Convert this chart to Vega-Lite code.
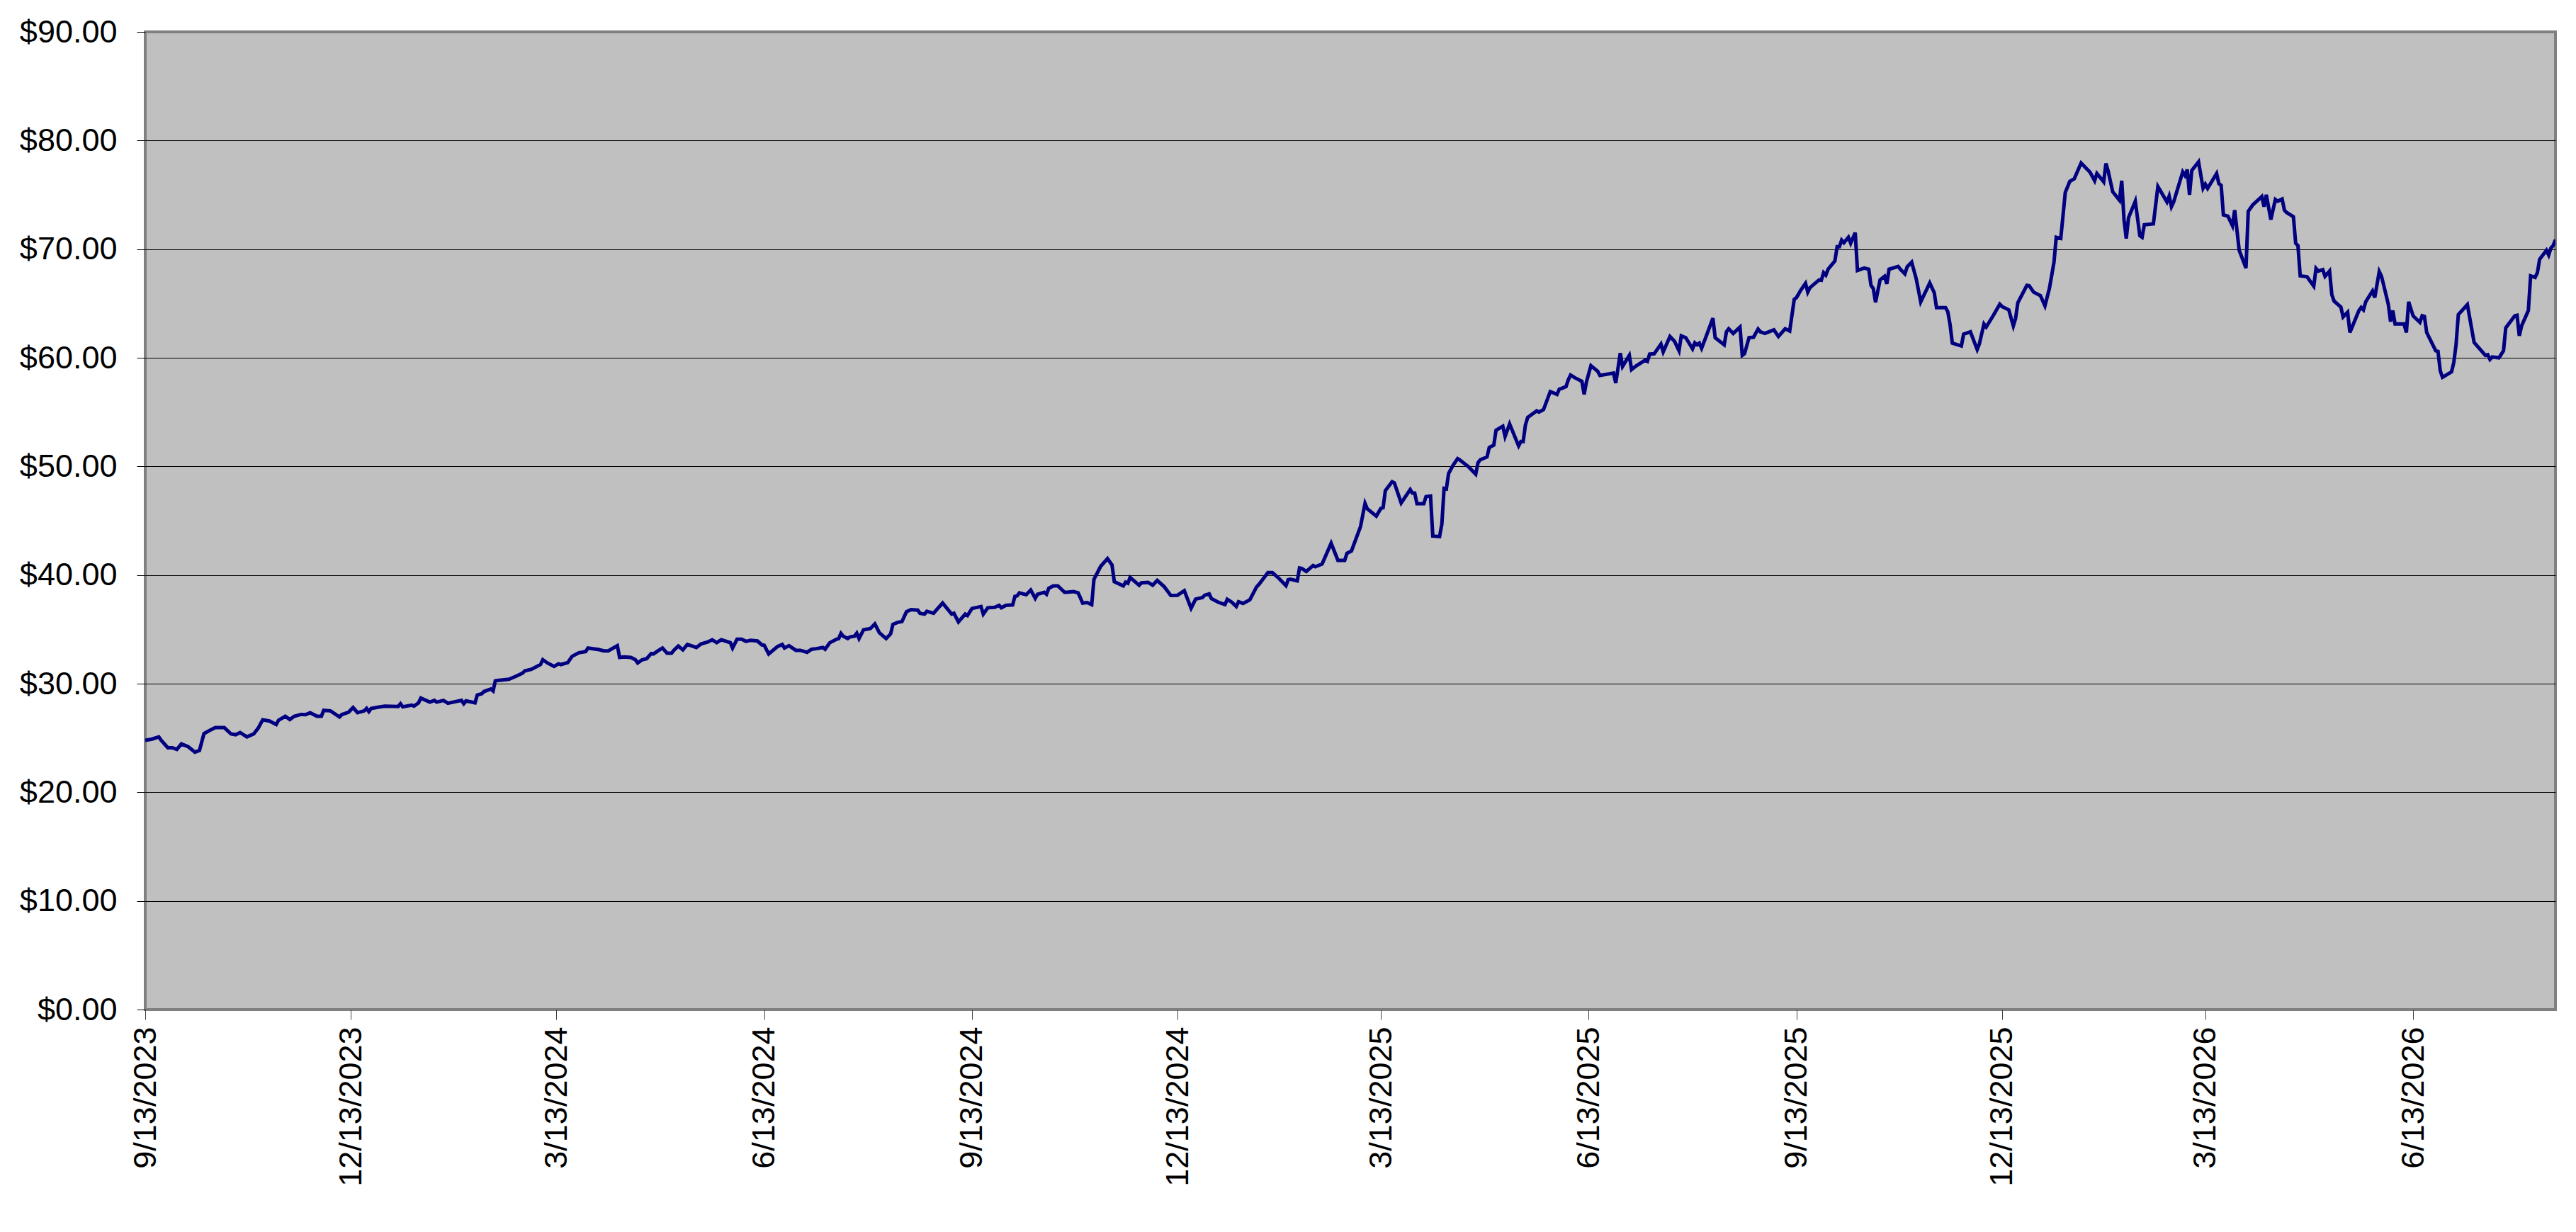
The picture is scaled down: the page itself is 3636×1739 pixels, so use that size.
{
  "$schema": "https://vega.github.io/schema/vega-lite/v6.json",
  "width": 3402,
  "height": 1380,
  "autosize": {"type": "none"},
  "padding": {"left": 205, "top": 45, "right": 29, "bottom": 314},
  "background": "#FFFFFF",
  "config": {
    "font": "Liberation Sans",
    "view": {"fill": "#C0C0C0", "stroke": "#808080", "strokeWidth": 4}
  },
  "data": {
    "values": [
      {"d": "2023-09-13", "v": 24.78}, {"d": "2023-09-16", "v": 24.9}, {"d": "2023-09-19", "v": 25.1}, {"d": "2023-09-20", "v": 24.8},
      {"d": "2023-09-23", "v": 24.1}, {"d": "2023-09-25", "v": 24.1}, {"d": "2023-09-27", "v": 23.95}, {"d": "2023-09-29", "v": 24.45},
      {"d": "2023-10-02", "v": 24.2}, {"d": "2023-10-05", "v": 23.7}, {"d": "2023-10-07", "v": 23.85}, {"d": "2023-10-09", "v": 25.4},
      {"d": "2023-10-12", "v": 25.75}, {"d": "2023-10-14", "v": 25.95}, {"d": "2023-10-18", "v": 25.95}, {"d": "2023-10-21", "v": 25.37},
      {"d": "2023-10-23", "v": 25.3}, {"d": "2023-10-25", "v": 25.5}, {"d": "2023-10-28", "v": 25.1}, {"d": "2023-10-31", "v": 25.37},
      {"d": "2023-11-02", "v": 25.9}, {"d": "2023-11-04", "v": 26.67}, {"d": "2023-11-07", "v": 26.56}, {"d": "2023-11-10", "v": 26.24},
      {"d": "2023-11-11", "v": 26.63}, {"d": "2023-11-14", "v": 27.0}, {"d": "2023-11-16", "v": 26.7}, {"d": "2023-11-18", "v": 27.0},
      {"d": "2023-11-21", "v": 27.17}, {"d": "2023-11-23", "v": 27.15}, {"d": "2023-11-25", "v": 27.33}, {"d": "2023-11-28", "v": 27.0},
      {"d": "2023-11-30", "v": 27.0}, {"d": "2023-12-01", "v": 27.54}, {"d": "2023-12-04", "v": 27.5}, {"d": "2023-12-08", "v": 26.93},
      {"d": "2023-12-09", "v": 27.15}, {"d": "2023-12-12", "v": 27.37}, {"d": "2023-12-14", "v": 27.8}, {"d": "2023-12-16", "v": 27.33},
      {"d": "2023-12-19", "v": 27.5}, {"d": "2023-12-20", "v": 27.72}, {"d": "2023-12-21", "v": 27.43}, {"d": "2023-12-22", "v": 27.72},
      {"d": "2023-12-25", "v": 27.83}, {"d": "2023-12-28", "v": 27.93}, {"d": "2024-01-03", "v": 27.9}, {"d": "2024-01-04", "v": 28.15},
      {"d": "2024-01-05", "v": 27.87}, {"d": "2024-01-09", "v": 28.02}, {"d": "2024-01-10", "v": 27.93}, {"d": "2024-01-12", "v": 28.24},
      {"d": "2024-01-13", "v": 28.67}, {"d": "2024-01-17", "v": 28.3}, {"d": "2024-01-19", "v": 28.46}, {"d": "2024-01-20", "v": 28.3},
      {"d": "2024-01-23", "v": 28.46}, {"d": "2024-01-25", "v": 28.2}, {"d": "2024-01-31", "v": 28.46}, {"d": "2024-02-01", "v": 28.15},
      {"d": "2024-02-02", "v": 28.41}, {"d": "2024-02-06", "v": 28.24}, {"d": "2024-02-07", "v": 28.96}, {"d": "2024-02-09", "v": 29.07},
      {"d": "2024-02-10", "v": 29.28}, {"d": "2024-02-13", "v": 29.5}, {"d": "2024-02-14", "v": 29.33}, {"d": "2024-02-15", "v": 30.26},
      {"d": "2024-02-16", "v": 30.3}, {"d": "2024-02-21", "v": 30.41}, {"d": "2024-02-24", "v": 30.67}, {"d": "2024-02-27", "v": 30.96},
      {"d": "2024-02-28", "v": 31.17}, {"d": "2024-03-02", "v": 31.33}, {"d": "2024-03-06", "v": 31.76}, {"d": "2024-03-07", "v": 32.2},
      {"d": "2024-03-09", "v": 31.91}, {"d": "2024-03-12", "v": 31.59}, {"d": "2024-03-14", "v": 31.83}, {"d": "2024-03-15", "v": 31.76},
      {"d": "2024-03-18", "v": 31.93}, {"d": "2024-03-20", "v": 32.52}, {"d": "2024-03-23", "v": 32.85}, {"d": "2024-03-26", "v": 32.96},
      {"d": "2024-03-27", "v": 33.28}, {"d": "2024-04-01", "v": 33.13}, {"d": "2024-04-03", "v": 33.02}, {"d": "2024-04-05", "v": 33.02},
      {"d": "2024-04-09", "v": 33.5}, {"d": "2024-04-10", "v": 32.41}, {"d": "2024-04-12", "v": 32.46}, {"d": "2024-04-15", "v": 32.41},
      {"d": "2024-04-17", "v": 32.2}, {"d": "2024-04-18", "v": 31.91}, {"d": "2024-04-20", "v": 32.2}, {"d": "2024-04-22", "v": 32.3},
      {"d": "2024-04-24", "v": 32.78}, {"d": "2024-04-25", "v": 32.74}, {"d": "2024-04-27", "v": 33.02}, {"d": "2024-04-29", "v": 33.28},
      {"d": "2024-05-01", "v": 32.8}, {"d": "2024-05-03", "v": 32.8}, {"d": "2024-05-04", "v": 33.07}, {"d": "2024-05-06", "v": 33.46},
      {"d": "2024-05-08", "v": 33.11}, {"d": "2024-05-10", "v": 33.61}, {"d": "2024-05-14", "v": 33.33}, {"d": "2024-05-16", "v": 33.65},
      {"d": "2024-05-19", "v": 33.83}, {"d": "2024-05-21", "v": 34.04}, {"d": "2024-05-23", "v": 33.78}, {"d": "2024-05-25", "v": 34.04},
      {"d": "2024-05-29", "v": 33.78}, {"d": "2024-05-30", "v": 33.28}, {"d": "2024-06-01", "v": 34.09}, {"d": "2024-06-03", "v": 34.09},
      {"d": "2024-06-05", "v": 33.89}, {"d": "2024-06-07", "v": 34.0}, {"d": "2024-06-10", "v": 33.93}, {"d": "2024-06-12", "v": 33.57},
      {"d": "2024-06-13", "v": 33.54}, {"d": "2024-06-15", "v": 32.74}, {"d": "2024-06-19", "v": 33.43}, {"d": "2024-06-21", "v": 33.61},
      {"d": "2024-06-22", "v": 33.28}, {"d": "2024-06-24", "v": 33.5}, {"d": "2024-06-27", "v": 33.07}, {"d": "2024-06-29", "v": 33.07},
      {"d": "2024-07-02", "v": 32.89}, {"d": "2024-07-04", "v": 33.17}, {"d": "2024-07-06", "v": 33.22}, {"d": "2024-07-09", "v": 33.33},
      {"d": "2024-07-10", "v": 33.17}, {"d": "2024-07-12", "v": 33.76}, {"d": "2024-07-15", "v": 34.09}, {"d": "2024-07-16", "v": 34.15},
      {"d": "2024-07-17", "v": 34.63}, {"d": "2024-07-18", "v": 34.37}, {"d": "2024-07-20", "v": 34.15}, {"d": "2024-07-21", "v": 34.3},
      {"d": "2024-07-23", "v": 34.37}, {"d": "2024-07-24", "v": 34.65}, {"d": "2024-07-25", "v": 34.15}, {"d": "2024-07-27", "v": 34.96},
      {"d": "2024-07-30", "v": 35.07}, {"d": "2024-08-01", "v": 35.5}, {"d": "2024-08-03", "v": 34.69}, {"d": "2024-08-06", "v": 34.15},
      {"d": "2024-08-08", "v": 34.59}, {"d": "2024-08-09", "v": 35.46}, {"d": "2024-08-11", "v": 35.63}, {"d": "2024-08-13", "v": 35.72},
      {"d": "2024-08-15", "v": 36.62}, {"d": "2024-08-17", "v": 36.81}, {"d": "2024-08-20", "v": 36.77}, {"d": "2024-08-21", "v": 36.48},
      {"d": "2024-08-23", "v": 36.4}, {"d": "2024-08-24", "v": 36.66}, {"d": "2024-08-27", "v": 36.48}, {"d": "2024-08-28", "v": 36.72},
      {"d": "2024-08-31", "v": 37.42}, {"d": "2024-09-04", "v": 36.4}, {"d": "2024-09-05", "v": 36.48}, {"d": "2024-09-07", "v": 35.68},
      {"d": "2024-09-10", "v": 36.4}, {"d": "2024-09-11", "v": 36.27}, {"d": "2024-09-13", "v": 36.92}, {"d": "2024-09-17", "v": 37.1},
      {"d": "2024-09-18", "v": 36.4}, {"d": "2024-09-20", "v": 36.99}, {"d": "2024-09-23", "v": 37.03}, {"d": "2024-09-25", "v": 37.21},
      {"d": "2024-09-26", "v": 36.99}, {"d": "2024-09-28", "v": 37.21}, {"d": "2024-10-01", "v": 37.25}, {"d": "2024-10-02", "v": 38.03},
      {"d": "2024-10-03", "v": 38.08}, {"d": "2024-10-04", "v": 38.36}, {"d": "2024-10-07", "v": 38.19}, {"d": "2024-10-09", "v": 38.62},
      {"d": "2024-10-11", "v": 37.86}, {"d": "2024-10-12", "v": 38.23}, {"d": "2024-10-15", "v": 38.41}, {"d": "2024-10-16", "v": 38.23},
      {"d": "2024-10-17", "v": 38.78}, {"d": "2024-10-19", "v": 39.0}, {"d": "2024-10-21", "v": 39.0}, {"d": "2024-10-24", "v": 38.41},
      {"d": "2024-10-25", "v": 38.41}, {"d": "2024-10-28", "v": 38.47}, {"d": "2024-10-30", "v": 38.36}, {"d": "2024-11-01", "v": 37.42},
      {"d": "2024-11-03", "v": 37.47}, {"d": "2024-11-05", "v": 37.27}, {"d": "2024-11-06", "v": 39.61}, {"d": "2024-11-09", "v": 40.81},
      {"d": "2024-11-12", "v": 41.51}, {"d": "2024-11-14", "v": 40.92}, {"d": "2024-11-15", "v": 39.39}, {"d": "2024-11-19", "v": 39.0},
      {"d": "2024-11-20", "v": 39.34}, {"d": "2024-11-21", "v": 39.24}, {"d": "2024-11-22", "v": 39.78}, {"d": "2024-11-26", "v": 39.06},
      {"d": "2024-11-27", "v": 39.28}, {"d": "2024-11-30", "v": 39.32}, {"d": "2024-12-02", "v": 39.06}, {"d": "2024-12-04", "v": 39.5},
      {"d": "2024-12-07", "v": 38.95}, {"d": "2024-12-10", "v": 38.12}, {"d": "2024-12-13", "v": 38.14}, {"d": "2024-12-16", "v": 38.56},
      {"d": "2024-12-19", "v": 36.94}, {"d": "2024-12-21", "v": 37.79}, {"d": "2024-12-24", "v": 37.93}, {"d": "2024-12-25", "v": 38.14},
      {"d": "2024-12-27", "v": 38.26}, {"d": "2024-12-28", "v": 37.83}, {"d": "2024-12-31", "v": 37.5}, {"d": "2025-01-03", "v": 37.28},
      {"d": "2025-01-04", "v": 37.76}, {"d": "2025-01-06", "v": 37.5}, {"d": "2025-01-08", "v": 37.11}, {"d": "2025-01-09", "v": 37.54},
      {"d": "2025-01-11", "v": 37.39}, {"d": "2025-01-14", "v": 37.72}, {"d": "2025-01-17", "v": 38.91}, {"d": "2025-01-18", "v": 39.13},
      {"d": "2025-01-22", "v": 40.22}, {"d": "2025-01-24", "v": 40.22}, {"d": "2025-01-27", "v": 39.67}, {"d": "2025-01-30", "v": 39.02},
      {"d": "2025-01-31", "v": 39.57}, {"d": "2025-02-01", "v": 39.61}, {"d": "2025-02-04", "v": 39.46}, {"d": "2025-02-05", "v": 40.65},
      {"d": "2025-02-06", "v": 40.61}, {"d": "2025-02-08", "v": 40.33}, {"d": "2025-02-11", "v": 40.87}, {"d": "2025-02-12", "v": 40.76},
      {"d": "2025-02-15", "v": 41.02}, {"d": "2025-02-19", "v": 42.93}, {"d": "2025-02-22", "v": 41.35}, {"d": "2025-02-25", "v": 41.35},
      {"d": "2025-02-26", "v": 42.0}, {"d": "2025-02-28", "v": 42.22}, {"d": "2025-03-04", "v": 44.46}, {"d": "2025-03-06", "v": 46.59},
      {"d": "2025-03-07", "v": 46.09}, {"d": "2025-03-11", "v": 45.43}, {"d": "2025-03-13", "v": 46.13}, {"d": "2025-03-14", "v": 46.2},
      {"d": "2025-03-15", "v": 47.78}, {"d": "2025-03-18", "v": 48.59}, {"d": "2025-03-19", "v": 48.48}, {"d": "2025-03-22", "v": 46.63},
      {"d": "2025-03-26", "v": 47.87}, {"d": "2025-03-27", "v": 47.54}, {"d": "2025-03-28", "v": 47.54}, {"d": "2025-03-29", "v": 46.57},
      {"d": "2025-04-01", "v": 46.57}, {"d": "2025-04-02", "v": 47.22}, {"d": "2025-04-04", "v": 47.28}, {"d": "2025-04-05", "v": 43.59},
      {"d": "2025-04-08", "v": 43.54}, {"d": "2025-04-09", "v": 44.67}, {"d": "2025-04-10", "v": 47.98}, {"d": "2025-04-11", "v": 47.93},
      {"d": "2025-04-12", "v": 49.35}, {"d": "2025-04-14", "v": 50.11}, {"d": "2025-04-16", "v": 50.72}, {"d": "2025-04-17", "v": 50.59},
      {"d": "2025-04-21", "v": 49.93}, {"d": "2025-04-24", "v": 49.28}, {"d": "2025-04-25", "v": 50.33}, {"d": "2025-04-26", "v": 50.61},
      {"d": "2025-04-29", "v": 50.87}, {"d": "2025-04-30", "v": 51.74}, {"d": "2025-05-02", "v": 51.96}, {"d": "2025-05-03", "v": 53.33},
      {"d": "2025-05-06", "v": 53.7}, {"d": "2025-05-07", "v": 52.76}, {"d": "2025-05-09", "v": 53.91}, {"d": "2025-05-13", "v": 51.89},
      {"d": "2025-05-14", "v": 52.28}, {"d": "2025-05-15", "v": 52.28}, {"d": "2025-05-16", "v": 53.8}, {"d": "2025-05-17", "v": 54.5},
      {"d": "2025-05-21", "v": 55.11}, {"d": "2025-05-22", "v": 55.0}, {"d": "2025-05-24", "v": 55.22}, {"d": "2025-05-27", "v": 56.89},
      {"d": "2025-05-30", "v": 56.63}, {"d": "2025-05-31", "v": 57.11}, {"d": "2025-06-01", "v": 57.17}, {"d": "2025-06-03", "v": 57.35},
      {"d": "2025-06-04", "v": 57.98}, {"d": "2025-06-05", "v": 58.41}, {"d": "2025-06-07", "v": 58.15}, {"d": "2025-06-10", "v": 57.83},
      {"d": "2025-06-11", "v": 56.63}, {"d": "2025-06-12", "v": 57.76}, {"d": "2025-06-14", "v": 59.28}, {"d": "2025-06-17", "v": 58.76},
      {"d": "2025-06-18", "v": 58.37}, {"d": "2025-06-24", "v": 58.59}, {"d": "2025-06-25", "v": 57.67}, {"d": "2025-06-27", "v": 60.43},
      {"d": "2025-06-28", "v": 59.2}, {"d": "2025-07-01", "v": 60.22}, {"d": "2025-07-02", "v": 58.91}, {"d": "2025-07-04", "v": 59.24},
      {"d": "2025-07-08", "v": 59.78}, {"d": "2025-07-09", "v": 59.67}, {"d": "2025-07-10", "v": 60.33}, {"d": "2025-07-12", "v": 60.37},
      {"d": "2025-07-15", "v": 61.26}, {"d": "2025-07-16", "v": 60.54}, {"d": "2025-07-19", "v": 61.96}, {"d": "2025-07-21", "v": 61.52},
      {"d": "2025-07-23", "v": 60.65}, {"d": "2025-07-24", "v": 62.02}, {"d": "2025-07-26", "v": 61.85}, {"d": "2025-07-29", "v": 60.83},
      {"d": "2025-07-30", "v": 61.37}, {"d": "2025-07-31", "v": 61.2}, {"d": "2025-08-01", "v": 61.35}, {"d": "2025-08-02", "v": 60.87},
      {"d": "2025-08-04", "v": 61.96}, {"d": "2025-08-07", "v": 63.65}, {"d": "2025-08-08", "v": 61.85}, {"d": "2025-08-12", "v": 61.2},
      {"d": "2025-08-13", "v": 62.39}, {"d": "2025-08-14", "v": 62.67}, {"d": "2025-08-16", "v": 62.24}, {"d": "2025-08-19", "v": 62.83},
      {"d": "2025-08-20", "v": 60.22}, {"d": "2025-08-21", "v": 60.37}, {"d": "2025-08-23", "v": 61.85}, {"d": "2025-08-25", "v": 61.89},
      {"d": "2025-08-27", "v": 62.65}, {"d": "2025-08-28", "v": 62.39}, {"d": "2025-08-30", "v": 62.24}, {"d": "2025-09-03", "v": 62.57},
      {"d": "2025-09-05", "v": 61.96}, {"d": "2025-09-08", "v": 62.67}, {"d": "2025-09-10", "v": 62.46}, {"d": "2025-09-12", "v": 65.37},
      {"d": "2025-09-13", "v": 65.54}, {"d": "2025-09-15", "v": 66.26}, {"d": "2025-09-17", "v": 66.85}, {"d": "2025-09-18", "v": 66.04},
      {"d": "2025-09-19", "v": 66.46}, {"d": "2025-09-23", "v": 67.17}, {"d": "2025-09-24", "v": 67.13}, {"d": "2025-09-25", "v": 67.83},
      {"d": "2025-09-26", "v": 67.61}, {"d": "2025-09-27", "v": 68.15}, {"d": "2025-09-30", "v": 68.91}, {"d": "2025-10-01", "v": 70.22},
      {"d": "2025-10-02", "v": 70.22}, {"d": "2025-10-03", "v": 70.83}, {"d": "2025-10-04", "v": 70.59}, {"d": "2025-10-06", "v": 71.09},
      {"d": "2025-10-07", "v": 70.54}, {"d": "2025-10-09", "v": 71.52}, {"d": "2025-10-10", "v": 68.04}, {"d": "2025-10-13", "v": 68.26},
      {"d": "2025-10-15", "v": 68.15}, {"d": "2025-10-16", "v": 66.67}, {"d": "2025-10-17", "v": 66.37}, {"d": "2025-10-18", "v": 65.11},
      {"d": "2025-10-20", "v": 67.17}, {"d": "2025-10-22", "v": 67.5}, {"d": "2025-10-23", "v": 66.8}, {"d": "2025-10-24", "v": 68.15},
      {"d": "2025-10-28", "v": 68.41}, {"d": "2025-10-29", "v": 68.15}, {"d": "2025-10-31", "v": 67.72}, {"d": "2025-11-01", "v": 68.37},
      {"d": "2025-11-03", "v": 68.8}, {"d": "2025-11-05", "v": 67.28}, {"d": "2025-11-07", "v": 65.15}, {"d": "2025-11-11", "v": 66.89},
      {"d": "2025-11-13", "v": 65.98}, {"d": "2025-11-14", "v": 64.61}, {"d": "2025-11-18", "v": 64.61}, {"d": "2025-11-19", "v": 64.24},
      {"d": "2025-11-20", "v": 63.04}, {"d": "2025-11-21", "v": 61.35}, {"d": "2025-11-25", "v": 61.09}, {"d": "2025-11-26", "v": 62.17},
      {"d": "2025-11-29", "v": 62.39}, {"d": "2025-12-02", "v": 60.76}, {"d": "2025-12-03", "v": 61.3}, {"d": "2025-12-05", "v": 63.11},
      {"d": "2025-12-06", "v": 62.83}, {"d": "2025-12-09", "v": 63.85}, {"d": "2025-12-12", "v": 64.93}, {"d": "2025-12-13", "v": 64.72},
      {"d": "2025-12-16", "v": 64.41}, {"d": "2025-12-18", "v": 62.93}, {"d": "2025-12-19", "v": 63.63}, {"d": "2025-12-20", "v": 65.07},
      {"d": "2025-12-24", "v": 66.67}, {"d": "2025-12-25", "v": 66.63}, {"d": "2025-12-27", "v": 66.04}, {"d": "2025-12-30", "v": 65.72},
      {"d": "2026-01-01", "v": 64.78}, {"d": "2026-01-03", "v": 66.41}, {"d": "2026-01-05", "v": 68.8}, {"d": "2026-01-06", "v": 71.09},
      {"d": "2026-01-08", "v": 70.98}, {"d": "2026-01-10", "v": 75.22}, {"d": "2026-01-12", "v": 76.24}, {"d": "2026-01-14", "v": 76.48},
      {"d": "2026-01-17", "v": 77.93}, {"d": "2026-01-21", "v": 77.07}, {"d": "2026-01-23", "v": 76.3}, {"d": "2026-01-24", "v": 76.96},
      {"d": "2026-01-27", "v": 76.2}, {"d": "2026-01-28", "v": 77.89}, {"d": "2026-01-29", "v": 77.17}, {"d": "2026-01-31", "v": 75.28},
      {"d": "2026-02-03", "v": 74.5}, {"d": "2026-02-04", "v": 76.3}, {"d": "2026-02-05", "v": 72.72}, {"d": "2026-02-06", "v": 70.98},
      {"d": "2026-02-07", "v": 72.89}, {"d": "2026-02-10", "v": 74.41}, {"d": "2026-02-12", "v": 71.24}, {"d": "2026-02-13", "v": 71.09},
      {"d": "2026-02-14", "v": 72.24}, {"d": "2026-02-18", "v": 72.33}, {"d": "2026-02-20", "v": 75.76}, {"d": "2026-02-24", "v": 74.35},
      {"d": "2026-02-25", "v": 74.89}, {"d": "2026-02-26", "v": 73.91}, {"d": "2026-02-27", "v": 74.35}, {"d": "2026-03-03", "v": 77.11},
      {"d": "2026-03-04", "v": 76.78}, {"d": "2026-03-05", "v": 77.33}, {"d": "2026-03-06", "v": 75.0}, {"d": "2026-03-07", "v": 77.24},
      {"d": "2026-03-10", "v": 78.04}, {"d": "2026-03-12", "v": 75.61}, {"d": "2026-03-13", "v": 75.98}, {"d": "2026-03-14", "v": 75.59},
      {"d": "2026-03-18", "v": 76.96}, {"d": "2026-03-19", "v": 76.02}, {"d": "2026-03-20", "v": 75.87}, {"d": "2026-03-21", "v": 73.15},
      {"d": "2026-03-23", "v": 73.04}, {"d": "2026-03-25", "v": 72.17}, {"d": "2026-03-26", "v": 73.59}, {"d": "2026-03-28", "v": 69.89},
      {"d": "2026-03-31", "v": 68.26}, {"d": "2026-04-01", "v": 73.48}, {"d": "2026-04-03", "v": 74.07}, {"d": "2026-04-07", "v": 74.83},
      {"d": "2026-04-08", "v": 73.91}, {"d": "2026-04-09", "v": 75.0}, {"d": "2026-04-11", "v": 72.72}, {"d": "2026-04-13", "v": 74.57},
      {"d": "2026-04-14", "v": 74.41}, {"d": "2026-04-16", "v": 74.61}, {"d": "2026-04-17", "v": 73.59}, {"d": "2026-04-18", "v": 73.37},
      {"d": "2026-04-21", "v": 72.98}, {"d": "2026-04-22", "v": 70.54}, {"d": "2026-04-23", "v": 70.33}, {"d": "2026-04-24", "v": 67.54},
      {"d": "2026-04-27", "v": 67.46}, {"d": "2026-04-28", "v": 67.17}, {"d": "2026-04-30", "v": 66.59}, {"d": "2026-05-01", "v": 68.22},
      {"d": "2026-05-02", "v": 67.98}, {"d": "2026-05-04", "v": 68.11}, {"d": "2026-05-05", "v": 67.5}, {"d": "2026-05-07", "v": 67.98},
      {"d": "2026-05-08", "v": 65.8}, {"d": "2026-05-09", "v": 65.22}, {"d": "2026-05-12", "v": 64.67}, {"d": "2026-05-13", "v": 63.76},
      {"d": "2026-05-15", "v": 64.2}, {"d": "2026-05-16", "v": 62.33}, {"d": "2026-05-20", "v": 64.35}, {"d": "2026-05-21", "v": 64.63},
      {"d": "2026-05-22", "v": 64.41}, {"d": "2026-05-23", "v": 65.15}, {"d": "2026-05-26", "v": 66.15}, {"d": "2026-05-27", "v": 65.54},
      {"d": "2026-05-29", "v": 67.93}, {"d": "2026-05-30", "v": 67.5}, {"d": "2026-06-02", "v": 64.93}, {"d": "2026-06-03", "v": 63.33},
      {"d": "2026-06-04", "v": 64.35}, {"d": "2026-06-05", "v": 63.11}, {"d": "2026-06-09", "v": 63.11}, {"d": "2026-06-10", "v": 62.33},
      {"d": "2026-06-11", "v": 65.15}, {"d": "2026-06-13", "v": 63.85}, {"d": "2026-06-16", "v": 63.26}, {"d": "2026-06-17", "v": 63.87},
      {"d": "2026-06-18", "v": 63.8}, {"d": "2026-06-19", "v": 62.33}, {"d": "2026-06-23", "v": 60.65}, {"d": "2026-06-24", "v": 60.59},
      {"d": "2026-06-25", "v": 58.8}, {"d": "2026-06-26", "v": 58.2}, {"d": "2026-06-30", "v": 58.7}, {"d": "2026-07-01", "v": 59.57},
      {"d": "2026-07-02", "v": 61.2}, {"d": "2026-07-03", "v": 63.98}, {"d": "2026-07-07", "v": 64.89}, {"d": "2026-07-10", "v": 61.41},
      {"d": "2026-07-15", "v": 60.22}, {"d": "2026-07-16", "v": 60.28}, {"d": "2026-07-17", "v": 59.85}, {"d": "2026-07-18", "v": 60.07},
      {"d": "2026-07-21", "v": 60.0}, {"d": "2026-07-23", "v": 60.65}, {"d": "2026-07-24", "v": 62.76}, {"d": "2026-07-28", "v": 63.87},
      {"d": "2026-07-29", "v": 63.91}, {"d": "2026-07-30", "v": 62.02}, {"d": "2026-07-31", "v": 62.93}, {"d": "2026-08-03", "v": 64.35},
      {"d": "2026-08-04", "v": 67.54}, {"d": "2026-08-06", "v": 67.39}, {"d": "2026-08-07", "v": 67.83}, {"d": "2026-08-08", "v": 69.07},
      {"d": "2026-08-11", "v": 69.89}, {"d": "2026-08-12", "v": 69.46}, {"d": "2026-08-13", "v": 70.11}, {"d": "2026-08-14", "v": 70.33},
      {"d": "2026-08-15", "v": 70.87}
    ]
  },
  "mark": {"type": "line", "color": "#000080", "strokeWidth": 5, "clip": true},
  "encoding": {
    "x": {
      "field": "d",
      "type": "temporal",
      "title": null,
      "scale": {
        "type": "utc",
        "domain": [
          {"year": 2023, "month": 9, "date": 13, "utc": true},
          {"year": 2026, "month": 8, "date": 15, "utc": true}
        ]
      },
      "axis": {
        "values": [
          {"year": 2023, "month": 9, "date": 13, "utc": true},
          {"year": 2023, "month": 12, "date": 13, "utc": true},
          {"year": 2024, "month": 3, "date": 13, "utc": true},
          {"year": 2024, "month": 6, "date": 13, "utc": true},
          {"year": 2024, "month": 9, "date": 13, "utc": true},
          {"year": 2024, "month": 12, "date": 13, "utc": true},
          {"year": 2025, "month": 3, "date": 13, "utc": true},
          {"year": 2025, "month": 6, "date": 13, "utc": true},
          {"year": 2025, "month": 9, "date": 13, "utc": true},
          {"year": 2025, "month": 12, "date": 13, "utc": true},
          {"year": 2026, "month": 3, "date": 13, "utc": true},
          {"year": 2026, "month": 6, "date": 13, "utc": true}
        ],
        "labelExpr": "utcFormat(datum.value, '%-m/%-d/%Y')",
        "labelAngle": -90,
        "labelAlign": "right",
        "labelBaseline": "middle",
        "labelFont": "Liberation Sans",
        "labelFontSize": 45,
        "labelColor": "#000000",
        "labelPadding": 10,
        "labelLimit": 0,
        "labelOverlap": false,
        "labelFlush": false,
        "labelBound": false,
        "tickSize": 14,
        "tickColor": "#404040",
        "tickWidth": 1,
        "grid": false,
        "domain": false
      }
    },
    "y": {
      "field": "v",
      "type": "quantitative",
      "title": null,
      "scale": {"domain": [0, 90], "nice": false, "zero": true},
      "axis": {
        "values": [0, 10, 20, 30, 40, 50, 60, 70, 80, 90],
        "format": "$.2f",
        "labelFont": "Liberation Sans",
        "labelFontSize": 45,
        "labelColor": "#000000",
        "labelPadding": 28,
        "labelLimit": 0,
        "labelBaseline": "middle",
        "tickSize": 12,
        "tickColor": "#000000",
        "tickWidth": 1,
        "grid": true,
        "gridColor": {
          "condition": {"test": "datum.value == 0 || datum.value == 90", "value": "transparent"},
          "value": "#000000"
        },
        "gridWidth": 1,
        "domain": false
      }
    }
  }
}
